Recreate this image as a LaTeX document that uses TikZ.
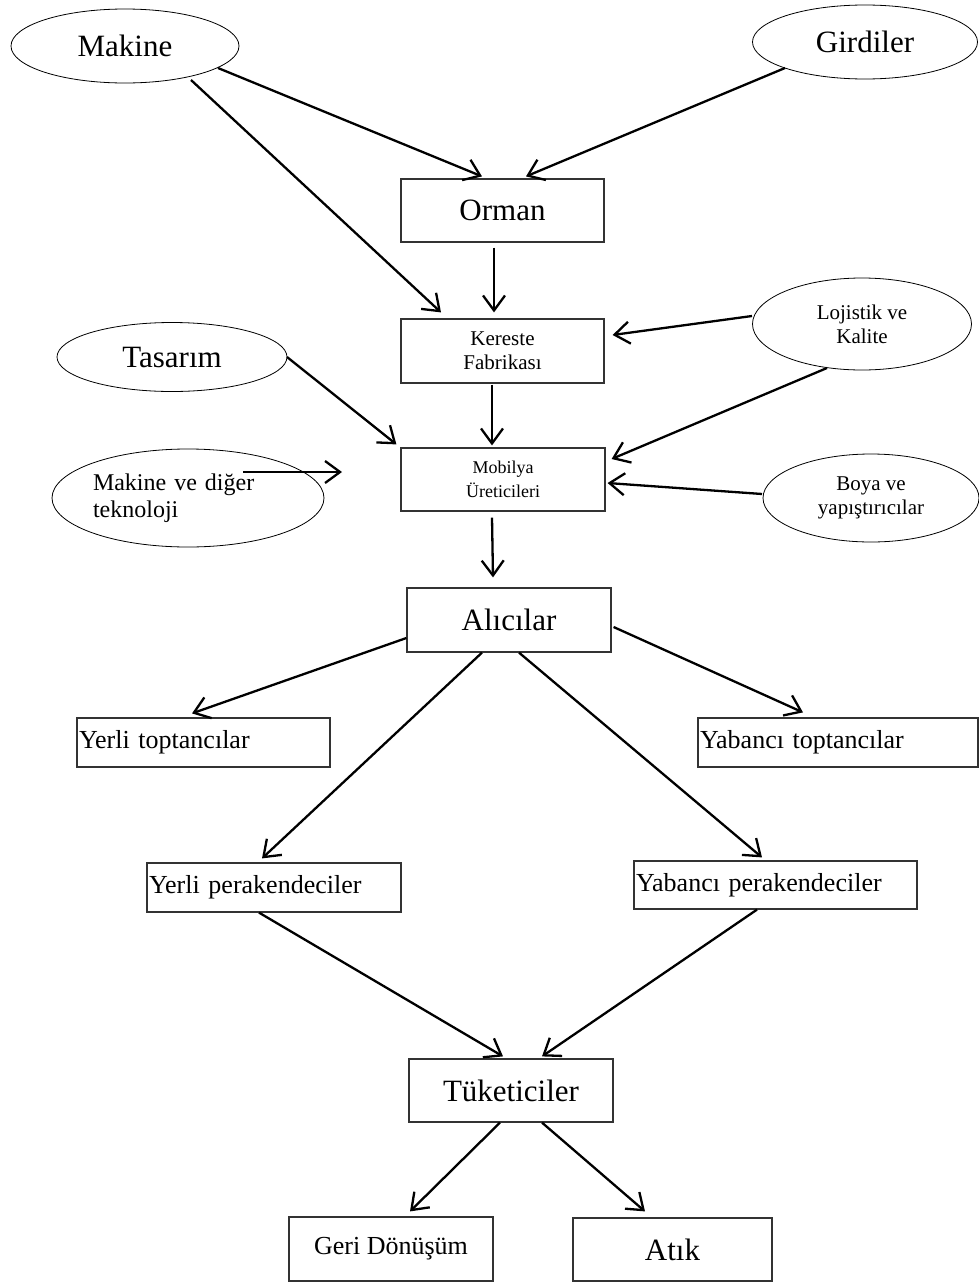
\documentclass[tikz,border=0pt]{standalone}
\usepackage{fontspec}
\setmainfont{Liberation Serif}
\usetikzlibrary{shapes.geometric,arrows.meta,calc}

\newcommand{\fsbig}{\fontsize{31}{36}\selectfont}
\newcommand{\fsmid}{\fontsize{26}{30}\selectfont}
\newcommand{\fssmall}{\fontsize{21}{24}\selectfont}

\tikzset{
  oval/.style={draw=black, line width=0.8pt, ellipse, inner sep=0pt},
  stepbox/.style={draw=black!80, line width=1.2pt, rectangle, inner sep=1pt},
  leftbox/.style={stepbox, align=left, font=\fsmid},
  flow/.style={line width=2.3pt, -{Straight Barb[length=15pt,width=22pt]}}
}

\begin{document}
\begin{tikzpicture}[x=1pt,y=-1pt]
\useasboundingbox (0,0) rectangle (978,1282);

% input ovals
\node[oval, minimum width=228, minimum height=74, font=\fsbig] (makine) at (125,46) {Makine};
\node[oval, minimum width=225, minimum height=74, font=\fsbig] (girdiler) at (865,42) {Girdiler};
\node[oval, minimum width=219, minimum height=92, font=\fssmall, align=center] (lojistik) at (862,324) {Lojistik ve\\Kalite};
\node[oval, minimum width=230, minimum height=69, font=\fsbig] (tasarim) at (172,357) {Tasarım};
\node[oval, minimum width=272, minimum height=98, font=\fontsize{24}{27}\selectfont, align=left, text width=190pt] (mvd) at (188,498) {Makine ve diğer\\teknoloji};
\node[oval, minimum width=216, minimum height=88, font=\fssmall, align=center] (boya) at (871,498) {Boya ve\\yapıştırıcılar};

% main chain
\node[stepbox, minimum width=203, minimum height=63, font=\fsbig] (orman) at (502.5,210.5) {Orman};
\node[stepbox, minimum width=203, minimum height=64, font=\fssmall, align=center] (kereste) at (502.5,351) {Kereste\\Fabrikası};
\node[stepbox, minimum width=204, minimum height=63, font=\fontsize{18}{24}\selectfont, align=center] (mobilya) at (503,479.5) {Mobilya\\Üreticileri};
\node[stepbox, minimum width=204, minimum height=64, font=\fsbig] (alicilar) at (509,620) {Alıcılar};

% distribution
\node[leftbox, minimum width=253, minimum height=49, text width=249pt] (ytop) at (203.5,742.5) {Yerli toptancılar};
\node[leftbox, minimum width=280, minimum height=49, text width=276pt] (yabtop) at (838,742.5) {Yabancı toptancılar};
\node[leftbox, minimum width=254, minimum height=49, text width=250pt] (yper) at (274,887.5) {Yerli perakendeciler};
\node[leftbox, minimum width=283, minimum height=48, text width=279pt] (yabper) at (775.5,885) {Yabancı perakendeciler};

% end of life
\node[stepbox, minimum width=204, minimum height=63, font=\fsbig] (tuk) at (511,1090.5) {Tüketiciler};
\node[stepbox, minimum width=204, minimum height=64, font=\fsmid] (geri) at (391,1249) {Geri Dönüşüm};
\node[stepbox, minimum width=199, minimum height=63, font=\fsbig] (atik) at (672.5,1249.5) {Atık};

\coordinate (mvdend) at ($(mvd.center)+(154,-26)$);

% connectors
\draw[flow] ($(makine.center)+(93,22)$) -- ($(orman.north)+(-20.5,-2)$);
\draw[flow] ($(makine.center)+(66,34)$) -- ($(kereste.north)+(-61.5,-6)$);
\draw[flow] ($(girdiler.center)+(-80,26)$) -- ($(orman.north)+(23.5,-2)$);
\draw[flow] ($(orman.south)+(-8.5,5)$) -- ($(kereste.north)+(-8.5,-6)$);
\draw[flow] ($(lojistik.center)+(-110,-8)$) -- ($(kereste.east)+(8,-16)$);
\draw[flow] ($(lojistik.center)+(-35,44)$) -- ($(mobilya.east)+(6,-20.5)$);
\draw[flow] ($(tasarim.center)+(115,0)$) -- ($(mobilya.north west)+(-4,-3)$);
\draw[flow] ($(kereste.south)+(-10.5,1)$) -- ($(mobilya.north)+(-11,-2)$);
\draw[flow] ($(boya.center)+(-109,-4)$) -- ($(mobilya.east)+(2,3.5)$);
\draw[flow] ($(mvd.center)+(55,-26)$) -- (mvdend);
\draw[flow] ($(mobilya.south)+(-11,6)$) -- ($(alicilar.north)+(-16,-10)$);
\draw[flow] ($(alicilar.west)+(0,18)$) -- ($(ytop.north)+(-11.5,-4)$);
\draw[flow] ($(alicilar.east)+(2,7)$) -- ($(yabtop.north)+(-35,-5)$);
\draw[flow] ($(alicilar.south)+(-27,0)$) -- ($(yper.north)+(-12,-4)$);
\draw[flow] ($(alicilar.south)+(10,0)$) -- ($(yabper.north)+(-13.5,-3)$);
\draw[flow] ($(yper.south)+(-15,0)$) -- ($(tuk.north)+(-8,-2)$);
\draw[flow] ($(yabper.south)+(-18.5,0)$) -- ($(tuk.north)+(31,-2)$);
\draw[flow] ($(tuk.south)+(-11,0)$) -- ($(geri.north)+(19,-5)$);
\draw[flow] ($(tuk.south)+(31,0)$) -- ($(atik.north)+(-27.5,-6)$);
\end{tikzpicture}
\end{document}
